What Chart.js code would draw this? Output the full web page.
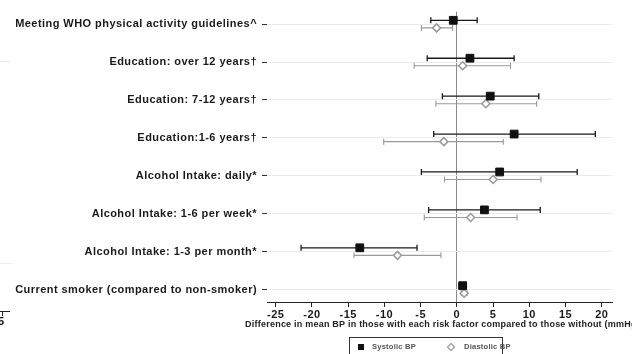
<!DOCTYPE html>
<html>
<head>
<meta charset="utf-8">
<script src="https://cdn.jsdelivr.net/npm/chart.js@4/dist/chart.umd.min.js"></script>
<style>
  html, body { margin: 0; padding: 0; background: #fff; }
  #wrap { width: 632px; height: 354px; position: relative; }
</style>
</head>
<body>
<div id="wrap"><canvas id="c" width="632" height="354"></canvas></div>
<script>
// ---- data ----
const categories = [
  "Meeting WHO physical activity guidelines^",
  "Education: over 12 years\u2020",
  "Education: 7-12 years\u2020",
  "Education:1-6 years\u2020",
  "Alcohol Intake: daily*",
  "Alcohol Intake: 1-6 per week*",
  "Alcohol Intake: 1-3 per month*",
  "Current smoker (compared to non-smoker)"
];
const systolicMean = [-0.5, 1.8, 4.6, 7.9, 5.9, 3.8, -13.4, 0.8];
const systolicLow  = [-3.6, -4.1, -2.0, -3.2, -4.9, -3.9, -21.5, 0.3];
const systolicHigh = [2.8, 7.9, 11.3, 19.1, 16.6, 11.5, -5.5, 1.3];
const diastolicMean = [-2.8, 0.8, 4.0, -1.8, 5.0, 1.9, -8.2, 1.0];
const diastolicLow  = [-4.9, -5.9, -2.9, -10.1, -1.7, -4.5, -14.2, 0.6];
const diastolicHigh = [-0.6, 7.4, 11.0, 6.4, 11.6, 8.3, -2.2, 1.4];
const xTicks = [-25, -20, -15, -10, -5, 0, 5, 10, 15, 20];
const seriesNames = ["Systolic BP", "Diastolic BP"];
const xTitle = "Difference in mean BP in those with each risk factor compared to those without (mmHg)";

const FONT = "'Liberation Sans', Arial, Helvetica, sans-serif";
const SYS_OFF = -0.1, DIA_OFF = 0.1;

function pts(means, off) {
  return means.map((v, i) => ({ x: v, y: i + off }));
}

const widenText = {
  id: 'widenText',
  beforeDraw(chart) { chart.ctx.letterSpacing = '0.45px'; },
  afterDraw(chart) { chart.ctx.letterSpacing = '0px'; }
};

const errorBars = {
  id: 'errorBars',
  beforeDatasetsDraw(chart) {
    const { ctx, scales: { x, y } } = chart;
    const sets = [
      { lo: systolicLow, hi: systolicHigh, off: SYS_OFF, color: '#1a1a1a', w: 1.3 },
      { lo: diastolicLow, hi: diastolicHigh, off: DIA_OFF, color: '#9a9a9a', w: 1.1 }
    ];
    ctx.save();
    sets.forEach(s => {
      ctx.strokeStyle = s.color;
      ctx.lineWidth = s.w;
      s.lo.forEach((lo, i) => {
        const yy = y.getPixelForValue(i + s.off);
        const x1 = x.getPixelForValue(lo), x2 = x.getPixelForValue(s.hi[i]);
        ctx.beginPath();
        ctx.moveTo(x1, yy); ctx.lineTo(x2, yy);
        ctx.moveTo(x1, yy - 3); ctx.lineTo(x1, yy + 3);
        ctx.moveTo(x2, yy - 3); ctx.lineTo(x2, yy + 3);
        ctx.stroke();
      });
    });
    ctx.restore();
  }
};

const customLegend = {
  id: 'customLegend',
  afterDraw(chart) {
    const { ctx, chartArea } = chart;
    ctx.save();
    // x-axis title (allowed to run past the right edge, as in the original)
    ctx.font = "bold 9px " + FONT;
    ctx.letterSpacing = '0px';
    const natural = ctx.measureText(xTitle).width;
    const spacing = Math.max(0, (395 - natural) / xTitle.length);
    ctx.letterSpacing = spacing.toFixed(2) + 'px';
    ctx.fillStyle = '#222';
    ctx.textAlign = 'center';
    ctx.textBaseline = 'middle';
    ctx.fillText(xTitle, (chartArea.left + chartArea.right) / 2 + 3, 325);

    ctx.textAlign = 'left';
    ctx.letterSpacing = '0.2px';
    ctx.strokeStyle = '#333';
    ctx.lineWidth = 1;
    ctx.strokeRect(349.5, 337.5, 153, 25);
    ctx.font = "bold 7.6px " + FONT;
    const cy = 347;
    ctx.fillStyle = '#111';
    ctx.fillRect(358, cy - 3, 6, 6);
    ctx.fillStyle = '#555';
    ctx.fillText(seriesNames[0], 372, cy);
    ctx.strokeStyle = '#999';
    ctx.lineWidth = 1.2;
    ctx.beginPath();
    ctx.moveTo(451, cy - 3.5); ctx.lineTo(454.5, cy); ctx.lineTo(451, cy + 3.5); ctx.lineTo(447.5, cy); ctx.closePath();
    ctx.stroke();
    ctx.fillText(seriesNames[1], 464, cy);
    // fragments of a neighbouring panel at the left edge
    ctx.strokeStyle = '#ececec';
    ctx.lineWidth = 1;
    ctx.beginPath();
    ctx.moveTo(0, 61.5); ctx.lineTo(10, 61.5);
    ctx.moveTo(0, 263.5); ctx.lineTo(12, 263.5);
    ctx.stroke();
    ctx.strokeStyle = '#222';
    ctx.beginPath();
    ctx.moveTo(0, 311.5); ctx.lineTo(10, 311.5);
    ctx.moveTo(2.5, 311.5); ctx.lineTo(2.5, 316);
    ctx.stroke();
    ctx.fillStyle = '#111';
    ctx.font = "bold 11px " + FONT;
    ctx.fillText('5', -2, 322);
    ctx.restore();
  }
};

new Chart(document.getElementById('c'), {
  type: 'scatter',
  data: {
    datasets: [
      {
        label: seriesNames[0],
        data: pts(systolicMean, SYS_OFF),
        pointStyle: 'rect',
        pointRadius: 5.5,
        backgroundColor: '#111',
        borderColor: '#111',
        borderWidth: 1
      },
      {
        label: seriesNames[1],
        data: pts(diastolicMean, DIA_OFF),
        pointStyle: 'rectRot',
        pointRadius: 4,
        backgroundColor: '#fff',
        borderColor: '#9a9a9a',
        borderWidth: 1.5
      }
    ]
  },
  options: {
    responsive: false,
    animation: false,
    devicePixelRatio: 1,
    layout: { padding: { top: 2, right: 20, bottom: 22, left: 0 } },
    plugins: {
      legend: { display: false },
      tooltip: { enabled: false }
    },
    scales: {
      x: {
        type: 'linear',
        min: -26.2,
        max: 21.4,
        afterBuildTicks: (s) => { s.ticks = xTicks.map(v => ({ value: v })); },
        afterFit: (s) => { s.height = 30; },
        border: { display: true, color: '#222', width: 1 },
        grid: {
          drawOnChartArea: true,
          color: (c) => (c.tick && c.tick.value === 0) ? '#8a8a8a' : 'rgba(0,0,0,0)',
          lineWidth: 1,
          tickColor: '#222',
          tickLength: 5
        },
        ticks: {
          color: '#1a1a1a',
          font: { family: FONT, size: 11, weight: 'bold' },
          padding: 1,
          maxRotation: 0,
          autoSkip: false
        },
        title: { display: false }
      },
      y: {
        type: 'linear',
        reverse: true,
        min: -0.33,
        max: 7.33,
        afterBuildTicks: (s) => { s.ticks = categories.map((_, i) => ({ value: i })); },
        afterFit: (s) => { s.width = 267; },
        border: { display: false },
        grid: {
          color: '#ebebeb',
          lineWidth: 1,
          tickColor: '#333',
          tickLength: 5
        },
        ticks: {
          color: '#1a1a1a',
          font: { family: FONT, size: 11, weight: 'bold' },
          padding: 5,
          autoSkip: false,
          callback: (v) => categories[v] !== undefined ? categories[v] : ''
        }
      }
    }
  },
  plugins: [widenText, errorBars, customLegend]
});
</script>
</body>
</html>
